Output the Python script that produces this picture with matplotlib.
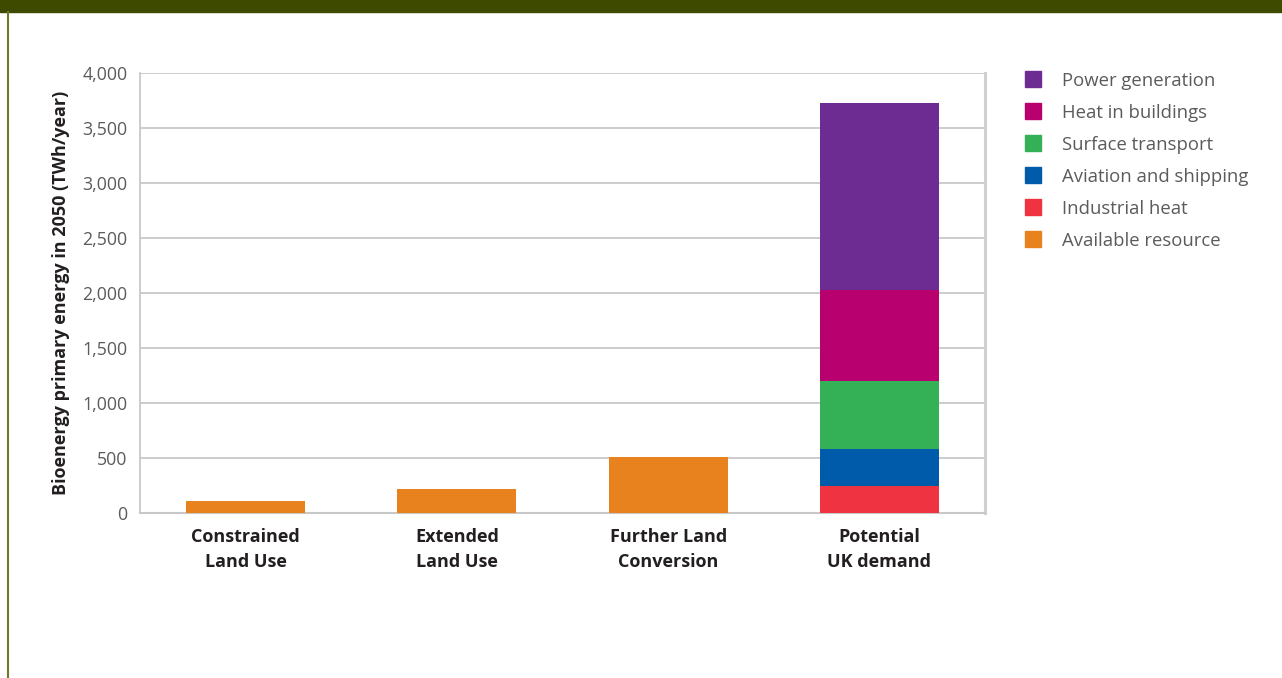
import matplotlib
matplotlib.use("Agg")
import matplotlib.pyplot as plt
from matplotlib.patches import Rectangle
from matplotlib.lines import Line2D

plt.rcParams['font.family'] = ['Open Sans', 'DejaVu Sans']

categories = ["Constrained\nLand Use", "Extended\nLand Use", "Further Land\nConversion", "Potential\nUK demand"]
available_resource = [105, 215, 505, 0]

demand_series = ["Industrial heat", "Aviation and shipping", "Surface transport", "Heat in buildings", "Power generation"]
demand_values = [245, 335, 620, 830, 1700]
demand_colors = ["#EF3340", "#005BAA", "#34B157", "#B8006E", "#6D2C91"]

legend_labels = ["Power generation", "Heat in buildings", "Surface transport",
                 "Aviation and shipping", "Industrial heat", "Available resource"]
legend_colors = ["#6D2C91", "#B8006E", "#34B157", "#005BAA", "#EF3340", "#E8821E"]
orange = "#E8821E"

yticks = [0, 500, 1000, 1500, 2000, 2500, 3000, 3500, 4000]

W, H = 1282, 678
fig = plt.figure(figsize=(W / 100, H / 100), dpi=100)

# top band and left frame line
fig.patches.append(Rectangle((0, 1 - 12 / H), 1, 12 / H, transform=fig.transFigure,
                             color="#3D4A00", zorder=0))
fig.lines.append(Line2D([8 / W, 8 / W], [0, 1 - 12 / H], transform=fig.transFigure,
                        color="#6E7A2A", linewidth=1.5))

ax = fig.add_axes([140 / W, (H - 513) / H, (985 - 140) / W, 440 / H])
x = list(range(len(categories)))
bw = 0.563
ax.bar(x[:3], available_resource[:3], width=bw, color=orange, zorder=3)
bottom = 0
for name, val, col in zip(demand_series, demand_values, demand_colors):
    ax.bar(x[3], val, width=bw, bottom=bottom, color=col, zorder=3)
    bottom += val

ax.set_xlim(-0.5, 3.5)
ax.set_ylim(0, 4000)
ax.set_yticks(yticks)
ax.set_yticklabels([f"{v:,}" for v in yticks], fontsize=12.8, color="#5A5B5D")
ax.set_xticks(x)
ax.set_xticklabels(categories, fontsize=13, fontweight="bold", color="#231F20", linespacing=1.5)
ax.tick_params(axis="y", length=0, pad=9)
ax.tick_params(axis="x", length=0, pad=10.5)
ax.grid(axis="y", color="#C8C8C8", linewidth=1.3, zorder=0)
ax.spines["top"].set_visible(False)
ax.spines["left"].set_color("#C8C8C8")
ax.spines["left"].set_linewidth(1.3)
ax.spines["bottom"].set_color("#C8C8C8")
ax.spines["bottom"].set_linewidth(1.5)
ax.spines["right"].set_color("#D0D0D0")
ax.spines["right"].set_linewidth(2.2)

ax.set_ylabel("Bioenergy primary energy in 2050 (TWh/year)", fontsize=13,
              fontweight="bold", color="#231F20", labelpad=9)

# legend
for i, (lab, col) in enumerate(zip(legend_labels, legend_colors)):
    yc = 79 + 32 * i
    fig.patches.append(Rectangle((1025 / W, (H - yc - 8) / H), 16 / W, 16 / H,
                                 transform=fig.transFigure, color=col))
    fig.text(1062 / W, (H - yc) / H, lab, fontsize=13.3, color="#5A5B5D",
             va="center_baseline", ha="left")

fig.savefig("out.png", dpi=100)
